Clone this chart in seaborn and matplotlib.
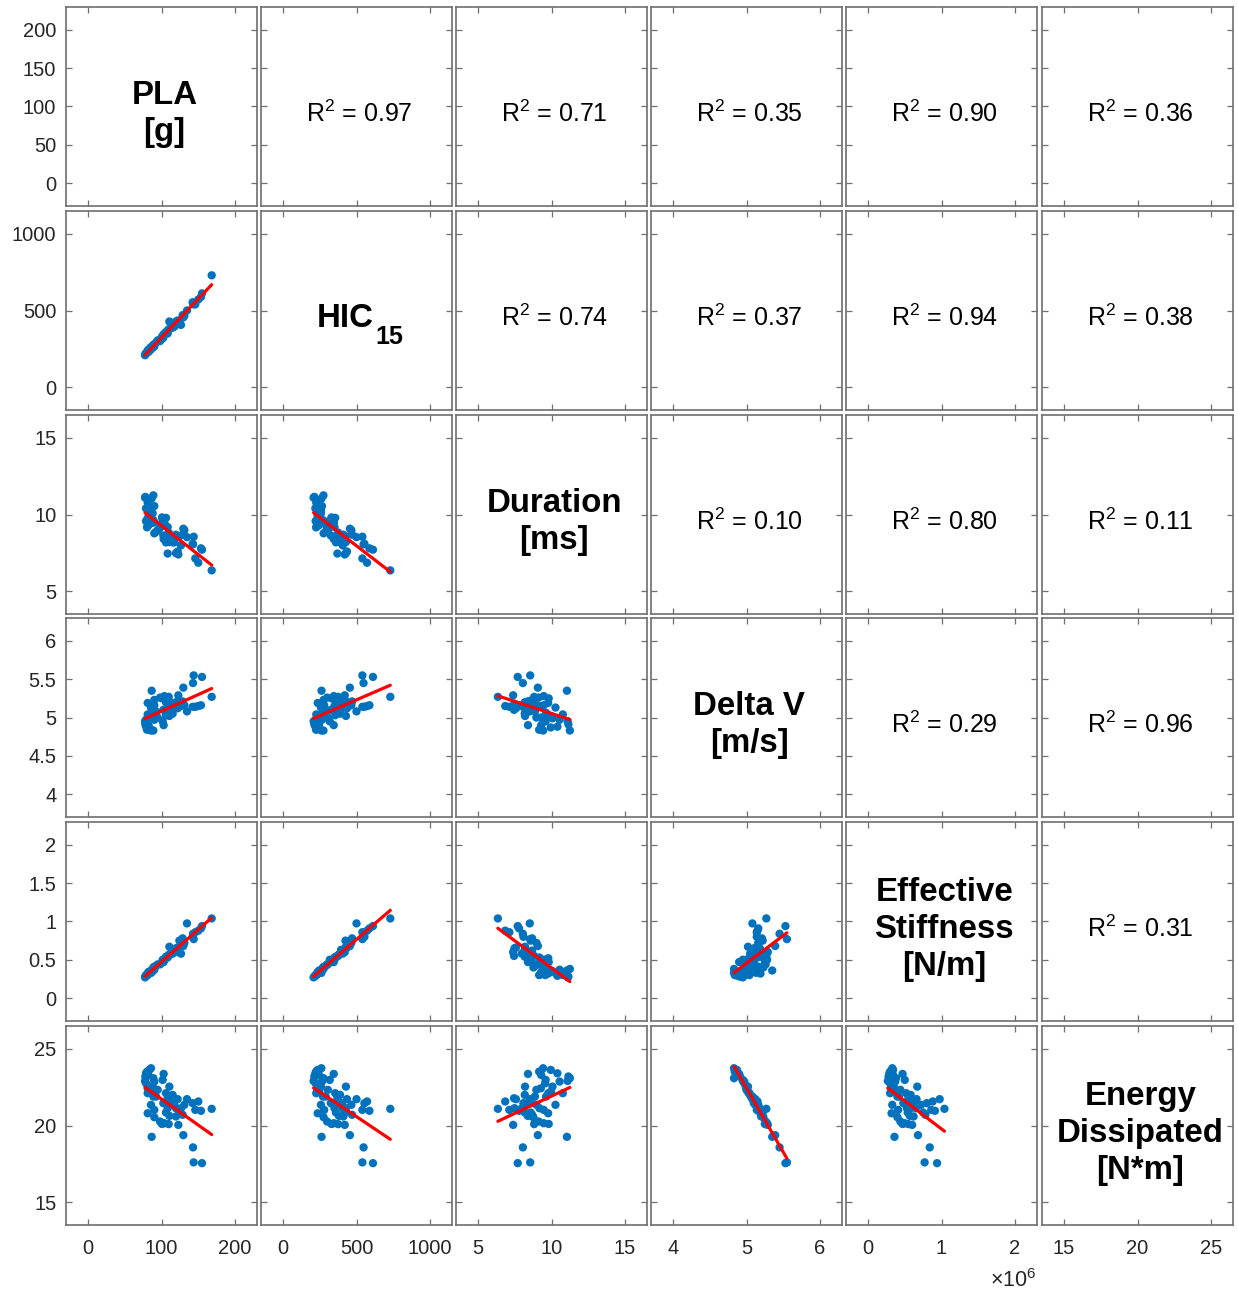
import matplotlib
matplotlib.use("Agg")
import matplotlib.pyplot as plt
import numpy as np
import pandas as pd
import seaborn as sns

sns.set_theme(style="white")
plt.rcParams["font.family"] = ["Liberation Sans", "DejaVu Sans"]
plt.rcParams["mathtext.fontset"] = "custom"
plt.rcParams["mathtext.rm"] = "Liberation Sans"
plt.rcParams["mathtext.it"] = "Liberation Sans:italic"
plt.rcParams["mathtext.bf"] = "Liberation Sans:bold"

# Impact measurements, one entry per test
pla = [85.7, 83.4, 80.3, 78.9, 78.0, 82.1, 88.9, 77.6, 90.2, 102.9,
       101.6, 88.0, 81.2, 110.7, 85.7, 88.9, 92.5, 106.1, 115.2, 108.4,
       122.0, 134.7, 142.4, 150.1, 168.3, 102.5, 85.7, 117.5, 131.1, 108.4,
       119.7, 146.0, 153.7, 90.2, 81.2, 106.1, 124.3, 110.7, 90.2, 119.7,
       128.8, 98.0, 103.9, 109.8, 122.9, 100.7, 86.6, 129.7, 142.9, 143.8,
       155.1, 81.2, 94.8, 114.3, 126.5, 78.9]
hic15 = [261, 235, 225, 220, 213, 245, 275, 208, 265, 345,
         318, 258, 232, 428, 246, 272, 290, 355, 388, 370,
         435, 500, 554, 572, 730, 325, 258, 395, 465, 350,
         428, 540, 588, 280, 236, 360, 425, 380, 276, 410,
         470, 300, 346, 375, 420, 330, 262, 455, 548, 540,
         612, 226, 305, 400, 406, 222]
duration = [9.43, 9.95, 9.16, 10.4, 11.15, 9.3, 11.25, 11.1, 10.55, 8.4,
            9.6, 10.07, 9.27, 8.2, 9.97, 9.63, 8.87, 9.78, 8.18, 7.45,
            7.58, 8.52, 8.09, 6.85, 6.35, 8.63, 10.27, 8.18, 8.98, 9.18,
            7.48, 7.13, 7.79, 9.47, 9.77, 8.18, 8.58, 8.38, 8.77, 8.68,
            8.68, 9.13, 9.47, 8.82, 7.39, 9.81, 11.05, 9.07, 8.05, 8.55,
            7.7, 10.77, 8.97, 8.42, 7.98, 9.57]
delta_v = [4.83, 4.87, 4.84, 4.88, 4.91, 4.90, 4.83, 4.95, 4.97, 4.90,
           4.95, 4.99, 5.00, 5.02, 5.02, 5.06, 5.08, 5.03, 5.05, 5.10,
           5.12, 5.08, 5.14, 5.15, 5.27, 5.10, 5.13, 5.12, 5.16, 5.15,
           5.18, 5.14, 5.16, 5.16, 5.19, 5.20, 5.22, 5.21, 5.23, 5.20,
           5.21, 5.26, 5.28, 5.27, 5.29, 5.25, 5.35, 5.39, 5.45, 5.55,
           5.53, 5.04, 5.00, 5.12, 5.15, 4.97]
stiffness = [0.33, 0.34, 0.30, 0.29, 0.28, 0.34, 0.38, 0.27, 0.37, 0.47,
             0.50, 0.35, 0.31, 0.67, 0.36, 0.40, 0.42, 0.52, 0.58, 0.55,
             0.66, 0.975, 0.80, 0.88, 1.04, 0.48, 0.33, 0.63, 0.72, 0.53,
             0.65, 0.86, 0.91, 0.41, 0.32, 0.54, 0.75, 0.57, 0.40, 0.62,
             0.78, 0.44, 0.50, 0.55, 0.60, 0.47, 0.36, 0.68, 0.84, 0.77,
             0.94, 0.30, 0.44, 0.60, 0.58, 0.30]  # x10^6 N/m
energy = [23.74, 23.63, 23.52, 23.41, 23.2, 23.3, 23.09, 22.91, 22.87, 23.37,
          22.98, 22.54, 22.43, 22.54, 22.22, 21.89, 21.89, 22.11, 22.0, 21.78,
          21.72, 21.72, 21.46, 21.57, 21.09, 21.46, 21.35, 21.35, 21.35, 21.13,
          21.13, 21.02, 20.96, 21.02, 20.8, 20.85, 20.85, 20.63, 20.54, 20.59,
          20.7, 20.26, 20.15, 20.09, 20.04, 20.1, 19.26, 19.37, 18.57, 17.59,
          17.54, 22.11, 22.33, 21.46, 21.13, 22.76]

variables = ["PLA", "HIC15", "Duration", "DeltaV", "Stiffness", "Energy"]
names = ["PLA\n[g]", None, "Duration\n[ms]", "Delta V\n[m/s]",
         "Effective\nStiffness\n[N/m]", "Energy\nDissipated\n[N*m]"]

# Coefficients of determination printed in the upper triangle (row, col)
r2_pairs = [(0, 1), (0, 2), (0, 3), (0, 4), (0, 5),
            (1, 2), (1, 3), (1, 4), (1, 5),
            (2, 3), (2, 4), (2, 5),
            (3, 4), (3, 5),
            (4, 5)]
r2_values = ["0.97", "0.71", "0.35", "0.90", "0.36",
             "0.74", "0.37", "0.94", "0.38",
             "0.10", "0.80", "0.11",
             "0.29", "0.96",
             "0.31"]

yticks = {
    "PLA": [0, 50, 100, 150, 200],
    "HIC15": [0, 500, 1000],
    "Duration": [5, 10, 15],
    "DeltaV": [4, 4.5, 5, 5.5, 6],
    "Stiffness": [0, 0.5, 1, 1.5, 2],
    "Energy": [15, 20, 25],
}
xticks = {
    "PLA": [0, 100, 200],
    "HIC15": [0, 500, 1000],
    "Duration": [5, 10, 15],
    "DeltaV": [4, 5, 6],
    "Stiffness": [0, 1, 2],
    "Energy": [15, 20, 25],
}

df = pd.DataFrame({"PLA": pla, "HIC15": hic15, "Duration": duration,
                   "DeltaV": delta_v, "Stiffness": stiffness, "Energy": energy})


def limits(var):
    t = xticks[var]
    span = t[-1] - t[0]
    return t[0] - 0.15 * span, t[-1] + 0.15 * span


W, H = 1238, 1293
fig = plt.figure(figsize=(W / 100, H / 100), dpi=100)
fig.patch.set_facecolor("white")

col_left = [66, 261, 456, 651, 846, 1042]
row_top = [7, 211, 415, 618, 822, 1026]
pw, ph = 191, 199

frame_col = "#6e6e6e"
label_col = "#262626"
r2_lookup = dict(zip(r2_pairs, r2_values))

n = len(variables)
for i in range(n):
    for j in range(n):
        ax = fig.add_axes([col_left[j] / W, 1 - (row_top[i] + ph) / H, pw / W, ph / H])
        xv, yv = variables[j], variables[i]
        if i > j:
            sns.scatterplot(data=df, x=xv, y=yv, ax=ax, s=36, color="#0072BD",
                            edgecolor="none", linewidth=0, zorder=2)
            sns.regplot(data=df, x=xv, y=yv, ax=ax, scatter=False, ci=None,
                        line_kws=dict(color="red", lw=2.3, zorder=3))
        elif i == j:
            if names[i] is None:
                # HIC with its 15 ms window as subscript
                ax.text(0.293, 0.417, "HIC", transform=ax.transAxes, ha="left",
                        va="baseline", fontsize=23.8, fontweight="bold", color="black")
                ax.text(0.598, 0.333, "15", transform=ax.transAxes, ha="left",
                        va="baseline", fontsize=18, fontweight="bold", color="black")
            else:
                ax.text(0.515, 0.46, names[i], transform=ax.transAxes, ha="center",
                        va="center", fontsize=23.8, fontweight="bold", color="black",
                        linespacing=1.25)
        else:
            ax.text(0.517, 0.465, "R$^2$ = " + r2_lookup[(i, j)], transform=ax.transAxes,
                    ha="center", va="center", fontsize=18, color="black")
        ax.set_xlim(limits(xv))
        ax.set_ylim(limits(yv))
        ax.set_xticks(xticks[xv])
        ax.set_yticks(yticks[yv])
        ax.set_xlabel("")
        ax.set_ylabel("")
        ax.tick_params(direction="in", length=4, width=0.9, color=frame_col,
                       top=True, bottom=True, left=True, right=True,
                       labelbottom=(i == n - 1), labelleft=(j == 0),
                       labelsize=14.5, labelcolor=label_col)
        ax.tick_params(axis="x", pad=10)
        ax.tick_params(axis="y", pad=7)
        ax.set_xticklabels([f"{t:g}" for t in xticks[xv]])
        ax.set_yticklabels([f"{t:g}" for t in yticks[yv]])
        for sp in ax.spines.values():
            sp.set_color(frame_col)
            sp.set_linewidth(1.2)
        ax.set_facecolor("white")

fig.text(1013 / W, 1 - 1281 / H, "$\\times$10$^6$", ha="center", va="center",
         fontsize=15.5, color=label_col)

fig.savefig("out.png", dpi=100, facecolor="white")
